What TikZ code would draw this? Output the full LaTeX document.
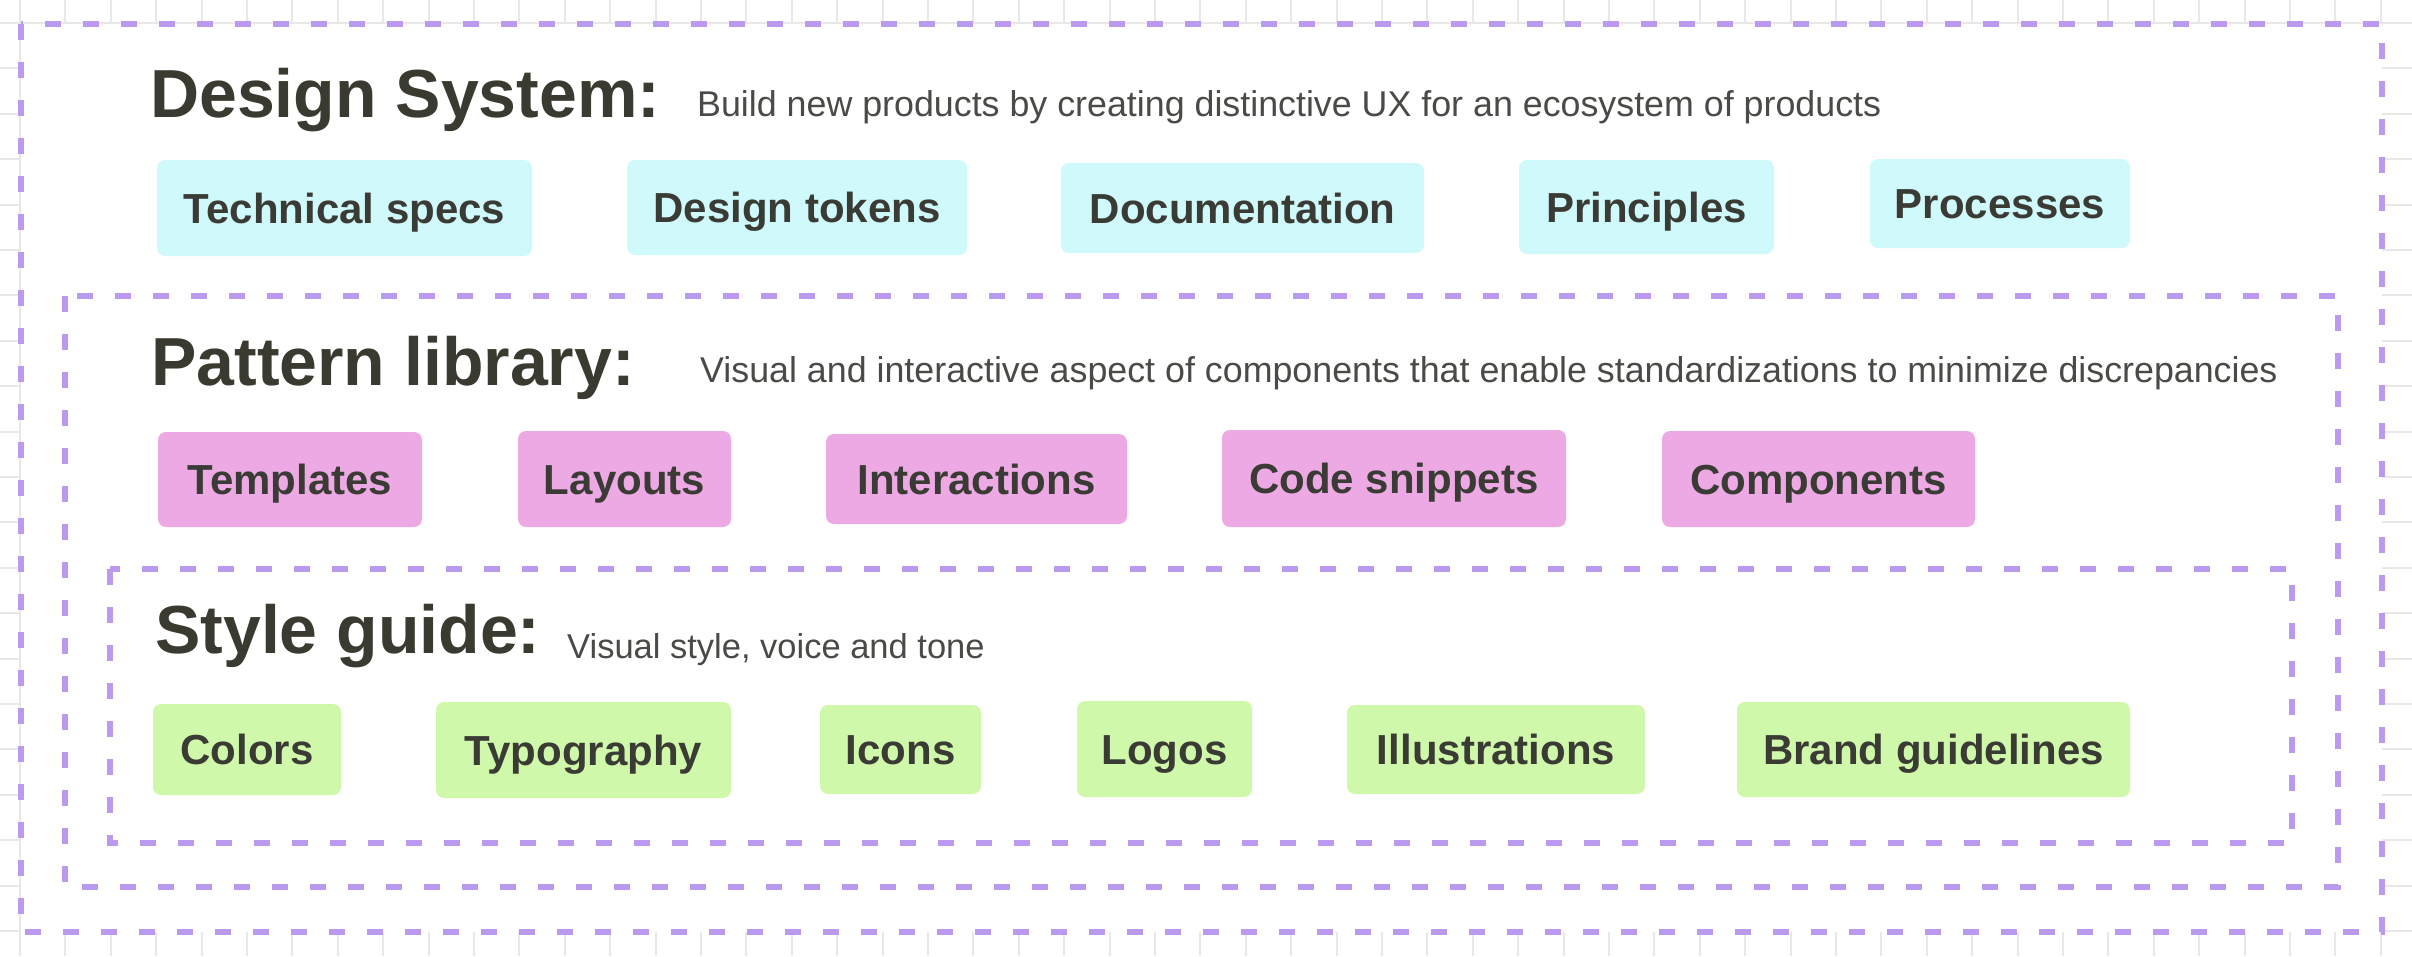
\documentclass[tikz,border=0pt]{standalone}
\usepackage{fontspec}
\setmainfont{Liberation Sans}
\definecolor{dashpurple}{HTML}{B99AEF}
\definecolor{gridgray}{HTML}{E8E8E8}
\definecolor{titlecol}{HTML}{3B3A30}
\definecolor{labelcol}{HTML}{3A3B35}
\definecolor{desccol}{HTML}{4A4A46}
\definecolor{cyanfill}{HTML}{CFF9FB}
\definecolor{pinkfill}{HTML}{EDA9E3}
\definecolor{greenfill}{HTML}{D0F8AA}
\newcommand{\tagbox}[7]{%
  \pgfmathsetmacro{\tbcx}{(#3+#5)/2}\pgfmathsetmacro{\tbcy}{(#4+#6)/2}%
  \pgfmathsetmacro{\tbw}{#5-#3}\pgfmathsetmacro{\tbh}{#6-#4}%
  \node[#2, minimum width=\tbw pt, minimum height=\tbh pt] (#1) at (\tbcx,\tbcy) {#7};}
\begin{document}
\begin{tikzpicture}[x=1pt,y=-1pt,
  frame/.style={draw=dashpurple, line width=6pt, dash pattern=on 16pt off 22pt},
  tag/.style={rounded corners=8pt, inner sep=0pt, text height=30pt, text depth=0pt,
    font=\fontsize{42}{50}\selectfont\bfseries, text=labelcol},
  cyantag/.style={tag, fill=cyanfill},
  pinktag/.style={tag, fill=pinkfill},
  greentag/.style={tag, fill=greenfill},
  title/.style={anchor=base west, inner sep=0pt, font=\fontsize{68}{80}\selectfont\bfseries, text=titlecol},
  desc/.style={anchor=base west, inner sep=0pt, font=\fontsize{35.8}{42}\selectfont, text=desccol}]
\useasboundingbox (0,0) rectangle (2412,956);
\fill[white] (0,0) rectangle (2412,956);
% grid
\foreach \k in {0,...,52} \draw[gridgray, line width=2pt] ({20+45.4*\k},0) -- ({20+45.4*\k},956);
\foreach \k in {0,...,20} \draw[gridgray, line width=2pt] (0,{23+45.4*\k}) -- (2412,{23+45.4*\k});
\fill[white] (21,24) rectangle (2382,932);
% frames
\draw[frame] (21,24) rectangle (2382,932);
\draw[frame] (65,296) rectangle (2338,887);
\draw[frame] (110,569) rectangle (2292,843);
% design system
\node[title] (dsT) at (150,117) {Design System:};
\node[desc] (dsD) at (697,116) {Build new products by creating distinctive UX for an ecosystem of products};
\tagbox{ts}{cyantag}{157}{160}{532}{256}{Technical specs}
\tagbox{dt}{cyantag}{627}{160}{967}{255}{Design tokens}
\tagbox{doc}{cyantag}{1061}{163}{1424}{253}{Documentation}
\tagbox{pr}{cyantag}{1519}{160}{1774}{254}{Principles}
\tagbox{proc}{cyantag}{1870}{159}{2130}{248}{Processes}
% pattern library
\node[title] (plT) at (151,385) {Pattern library:};
\node[desc] (plD) at (700,382) {Visual and interactive aspect of components that enable standardizations to minimize discrepancies};
\tagbox{tpl}{pinktag}{158}{432}{422}{527}{Templates}
\tagbox{lay}{pinktag}{518}{431}{731}{527}{Layouts}
\tagbox{int}{pinktag}{826}{434}{1127}{524}{Interactions}
\tagbox{code}{pinktag}{1222}{430}{1566}{527}{Code snippets}
\tagbox{comp}{pinktag}{1662}{431}{1975}{527}{Components}
% style guide
\node[title] (sgT) at (155,653) {Style guide:};
\node[desc, font=\fontsize{34.5}{42}\selectfont] (sgD) at (567,658) {Visual style, voice and tone};
\tagbox{col}{greentag}{153}{704}{341}{795}{Colors}
\tagbox{typo}{greentag}{436}{702}{731}{798}{Typography}
\tagbox{ico}{greentag}{820}{705}{981}{794}{Icons}
\tagbox{logo}{greentag}{1077}{701}{1252}{797}{Logos}
\tagbox{ill}{greentag}{1347}{705}{1645}{794}{Illustrations}
\tagbox{brand}{greentag}{1737}{702}{2130}{797}{Brand guidelines}
\end{tikzpicture}
\end{document}
